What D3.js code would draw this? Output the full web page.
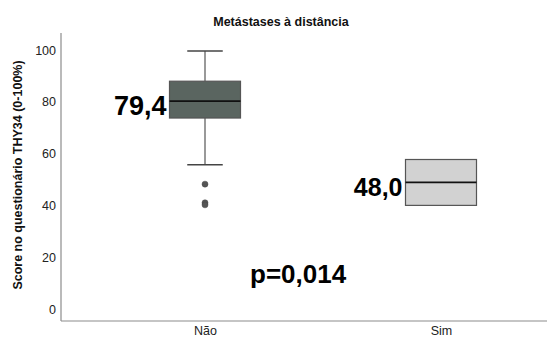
<!DOCTYPE html>
<html><head><meta charset="utf-8">
<script src="https://cdn.jsdelivr.net/npm/d3@7"></script>
<style>
body{margin:0;background:#fff;}
svg{display:block;font-family:"Liberation Sans",Arial,sans-serif;}
</style></head><body>
<svg id="c" width="548" height="341"></svg>
<script>
const categories = ["Não", "Sim"];
const q1 = [73.8, 40.1];
const medians = [80.3, 49.0];
const q3 = [88.0, 57.8];
const whiskerLow = [55.8, 40.1];
const whiskerHigh = [99.7, 57.8];
const outliers = [[48.3, 41.1, 40.3], []];
const medianLabels = ["79,4", "48,0"];
const yTicks = [0, 20, 40, 60, 80, 100];
const fills = ["#5a6560", "#d2d2d2"];
const title = "Metástases à distância";
const yTitle = "Score no questionário THY34 (0-100%)";
const pLabel = "p=0,014";

const svg = d3.select("#c");
const x0 = 61, x1 = 547, yTop = 33, yBot = 321;
const y = d3.scaleLinear().domain([-4.5, 106.6]).range([yBot, yTop]);
const x = d3.scalePoint().domain(categories).range([205, 441]);
const bw = 71;

// axes
svg.append("line").attr("x1", x0).attr("x2", x0).attr("y1", yTop).attr("y2", yBot).attr("stroke", "#8c8c8c").attr("stroke-width", 1.2);
svg.append("line").attr("x1", x0).attr("x2", x1).attr("y1", yBot).attr("y2", yBot).attr("stroke", "#8c8c8c").attr("stroke-width", 1.2);

const yAxis = d3.axisLeft(y).tickValues(yTicks).tickSize(0).tickPadding(0);
const gy = svg.append("g").attr("transform", `translate(${x0 - 5},0)`).call(yAxis);
gy.select(".domain").remove();
gy.selectAll("text").attr("font-size", 12.5).attr("fill", "#222").attr("font-family", "Liberation Sans, Arial, sans-serif");

const xAxis = d3.axisBottom(x).tickSize(0).tickPadding(0);
const gx = svg.append("g").attr("transform", `translate(0,${yBot + 5})`).call(xAxis);
gx.select(".domain").remove();
gx.selectAll("text").attr("font-size", 12.5).attr("fill", "#222").attr("dy", "0.75em").attr("font-family", "Liberation Sans, Arial, sans-serif");

// title
svg.append("text").attr("x", 281).attr("y", 26).attr("text-anchor", "middle")
  .attr("font-size", 12.5).attr("font-weight", "bold").attr("fill", "#111").text(title);
svg.append("text").attr("transform", `translate(22,${175}) rotate(-90)`).attr("text-anchor", "middle")
  .attr("font-size", 12.5).attr("font-weight", "bold").attr("fill", "#111").text(yTitle);

// boxes
categories.forEach((c, i) => {
  const cx = x(c);
  const g = svg.append("g");
  if (whiskerHigh[i] > q3[i]) {
    g.append("line").attr("x1", cx).attr("x2", cx).attr("y1", y(q3[i])).attr("y2", y(whiskerHigh[i])).attr("stroke", "#555").attr("stroke-width", 1.2);
    g.append("line").attr("x1", cx - bw / 4).attr("x2", cx + bw / 4).attr("y1", y(whiskerHigh[i])).attr("y2", y(whiskerHigh[i])).attr("stroke", "#444").attr("stroke-width", 1.5);
  }
  if (whiskerLow[i] < q1[i]) {
    g.append("line").attr("x1", cx).attr("x2", cx).attr("y1", y(q1[i])).attr("y2", y(whiskerLow[i])).attr("stroke", "#555").attr("stroke-width", 1.2);
    g.append("line").attr("x1", cx - bw / 4).attr("x2", cx + bw / 4).attr("y1", y(whiskerLow[i])).attr("y2", y(whiskerLow[i])).attr("stroke", "#444").attr("stroke-width", 1.5);
  }
  g.append("rect").attr("x", cx - bw / 2).attr("width", bw).attr("y", y(q3[i])).attr("height", y(q1[i]) - y(q3[i]))
    .attr("fill", fills[i]).attr("stroke", "#555").attr("stroke-width", 1.2);
  g.append("line").attr("x1", cx - bw / 2).attr("x2", cx + bw / 2).attr("y1", y(medians[i])).attr("y2", y(medians[i])).attr("stroke", "#111").attr("stroke-width", 1.8);
  outliers[i].forEach(v => {
    g.append("circle").attr("cx", cx).attr("cy", y(v)).attr("r", 3).attr("fill", "#555").attr("stroke", "#444").attr("stroke-width", 0.5);
  });
  g.append("text").attr("x", cx - bw / 2 - 3).attr("y", y(medians[i]) + 14).attr("text-anchor", "end")
    .attr("font-size", i === 0 ? 27 : 25).attr("font-weight", "bold").attr("fill", "#000").text(medianLabels[i]);
});

svg.append("text").attr("x", 250).attr("y", 283).attr("font-size", 26).attr("font-weight", "bold").attr("fill", "#000").text(pLabel);
</script>
</body></html>
